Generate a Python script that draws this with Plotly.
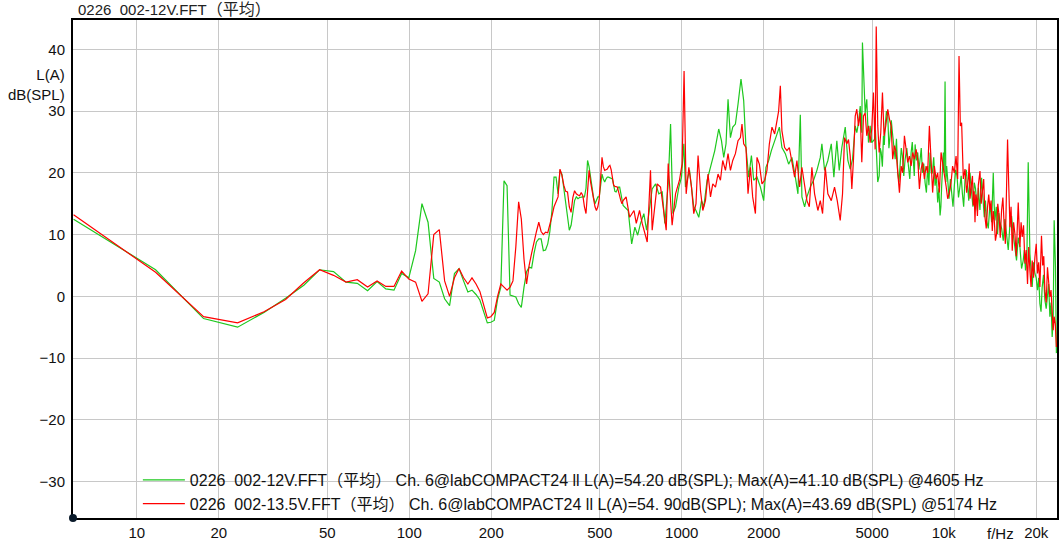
import math
import plotly.graph_objects as go

# ---------------- data ----------------
green_hz = [5.86, 11.72, 17.58, 23.44, 29.30, 35.16, 41.02, 46.88, 52.73, 58.59, 64.45, 70.31, 76.17, 82.03,
            87.89, 93.75, 99.61, 105.5, 111.3, 117.2, 123.0, 128.9, 134.8, 140.6, 146.5, 152.3, 158.2, 164.1,
            169.9, 175.8, 181.6, 187.5, 193.4, 199.2, 205.1, 210.9, 216.8, 222.7, 228.5, 234.4, 240.2, 246.1,
            252.0, 257.8, 263.7, 269.5, 275.4, 281.3, 287.1, 293.0, 298.8, 304.7, 310.5, 316.4, 322.3, 328.1,
            334.0, 339.8, 345.7, 351.6, 357.4, 363.3, 369.1, 375.0, 380.9, 386.7, 392.6, 398.4, 404.3, 410.2,
            416.0, 421.9, 427.7, 433.6, 439.5, 445.3, 451.2, 457.0, 462.9, 468.8, 474.6, 480.5, 486.3, 492.2,
            498.0, 503.9, 509.8, 515.6, 521.5, 527.3, 533.2, 539.1, 544.9, 550.8, 556.6, 562.5, 568.4, 574.2,
            580.1, 585.9, 591.8, 597.7, 603.5, 609.4, 636, 655, 673, 689, 706, 726, 743, 761, 779, 802, 824,
            848, 867, 892, 910, 928, 949, 976, 998, 1018, 1032, 1068, 1086, 1107, 1128, 1155, 1182, 1205, 1239,
            1264, 1292, 1322, 1367, 1399, 1426, 1454, 1479, 1509, 1539, 1574, 1609, 1650, 1688, 1721, 1761,
            1802, 1837, 1889, 1944, 1999, 2037, 2085, 2133, 2175, 2217, 2282, 2332, 2400, 2468, 2538, 2612,
            2670, 2724, 2761, 2825, 2880, 2964, 3047, 3134, 3225, 3269, 3344, 3438, 3539, 3617, 3709, 3785,
            3870, 3982, 4071, 4153, 4235, 4332, 4391, 4454, 4519, 4580, 4605, 4713, 4777, 4846, 4916, 4981,
            5098, 5184, 5304, 5395, 5500, 5580, 5704, 5820, 5934, 6072, 6206, 6332, 6456, 6605, 6792, 6949,
            7085, 7187, 7347, 7497, 7644, 7820, 7994, 8156, 8316, 8508, 8697, 8875, 8996, 9125, 9257, 9383,
            9575, 9788, 10012, 10242, 10505, 10710, 10958, 11194, 11430, 11586, 11852, 12085, 12259, 12606,
            12895, 13149, 13531, 13913, 14114, 14428, 14722, 15137, 15565, 16017, 16469, 16935, 17427, 17919,
            18270, 18691, 18961, 19332, 19778, 20219, 20630, 21034, 21519, 21999, 22446, 22885, 23275, 23535,
            23720]
green_db = [12.5, 4.3, -3.6, -5.0, -2.6, -0.3, 1.8, 4.3, 4.0, 2.3, 2.1, 0.9, 2.4, 1.2,
            1.0, 3.7, 3.0, 7.4, 15.0, 12.0, 2.9, 2.3, -0.4, -1.5, 3.7, 4.5, 2.5, 0.7,
            1.0, 0.3, -0.6, -2.5, -4.3, -4.2, -3.9, -0.5, 1.5, 18.7, 17.9, 0.2, 0.0, -0.1,
            -1.2, -1.8, 1.5, 4.0, 4.7, 4.6, 7.0, 8.8, 9.3, 9.3, 7.4, 7.5, 8.5, 10.5,
            13.9, 19.3, 19.3, 16.6, 20.4, 19.8, 17.5, 15.0, 12.5, 10.7, 11.5, 14.0, 15.5, 16.1,
            15.8, 16.0, 16.1, 16.1, 16.1, 17.5, 22.0, 21.0, 19.3, 17.5, 16.0, 15.0, 15.5, 16.1,
            16.1, 18.0, 19.8, 19.0, 18.5, 19.0, 19.3, 19.3, 19.2, 19.0, 19.0, 18.0, 17.0, 16.9,
            17.5, 17.7, 17.7, 16.5, 15.5, 14.7, 13.9, 8.5, 11.2, 9.9, 11.8, 13.4, 10.7, 14.0, 17.4, 18.2, 16.6,
            16.9, 11.8, 18.2, 27.9, 13.4, 14.5, 17.7, 19.3, 24.7, 17.7, 20.4, 17.7, 14.5, 13.9, 12.8, 15.5, 14.5, 18.8,
            20.4, 22.0, 23.6, 27.1, 25.2, 22.5, 24.7, 31.9, 25.7, 27.4, 27.9, 31.1, 35.2, 31.7, 24.1, 19.3,
            22.8, 18.8, 19.3, 17.7, 15.5, 20.9, 22.0, 23.6, 24.7, 25.7, 27.4, 24.1, 23.1, 21.4, 22.5, 19.3,
            16.6, 29.4, 16.1, 14.5, 16.1, 17.7, 18.8, 20.4, 22.5, 24.7, 20.4, 22.0, 24.7, 19.3, 25.2, 20.4,
            24.1, 27.4, 22.0, 20.6, 22.2, 27.6, 26.5, 28.1, 30.8, 26.5, 41.1, 29.7, 31.9, 24.9, 27.6, 24.9,
            25.4, 22.2, 19.5, 23.3, 26.0, 27.6, 29.2, 26.0, 26.5, 22.2, 20.0, 21.1, 22.7, 22.2, 21.1, 23.3,
            21.7, 24.6, 23.3, 22.2, 20.0, 18.4, 21.1, 23.3, 20.0, 17.9, 15.2, 13.1, 17.9, 23.3, 34.8, 21.1,
            15.8, 16.8, 17.9, 19.5, 17.9, 16.8, 18.9, 17.9, 20.0, 16.8, 18.4, 15.8, 17.6, 19.2,
            12.8, 12.3, 15.0, 20.0, 12.3, 10.1, 12.0, 9.0, 10.1, 11.7, 10.1, 5.8, 8.0, 5.8,
            4.2, 21.7, 6.9, 1.5, 3.7, 1.0, -1.2, 1.5, -0.6, 1.0, -3.3, -6.6, 12.3, 4.7,
            -9.2]
# additional readings of the dense high-frequency ripple (green)
green_hz_hf = [5140, 5240, 5350, 5450, 5540, 5640, 5760, 5877, 6000, 6140, 6270, 6394, 6530, 6700, 6870,
               7017, 7136, 7267, 7420, 7570, 7730, 7907, 8075, 8236, 8410, 8600, 8785, 8935, 9060, 9190,
               9320, 9480, 9680, 9900, 10125, 10370, 10607, 10833, 11075, 11310, 11508, 11718, 11968, 12170,
               12430, 12750, 13020, 13340, 13720, 14010, 14270, 14575, 14930, 15350, 15790, 16240, 16700,
               17180, 17670, 18090, 18480, 19145, 19555, 19995, 20425, 20830, 21275, 21760, 22220, 22665,
               23080]
green_db_hf = [27.0, 18.5, 24.0, 21.0, 24.5, 30.0, 24.0, 28.5, 24.0, 25.5, 18.5, 24.0, 19.5, 24.0, 19.0,
               25.0, 19.5, 22.0, 20.5, 24.0, 21.5, 16.8, 18.0, 20.0, 22.5, 19.5, 17.5, 14.5, 20.5, 20.0,
               18.5, 18.5, 19.0, 14.5, 20.5, 16.0, 19.5, 14.5, 20.5, 15.5, 18.8, 14.5, 17.5, 13.8,
               14.0, 16.0, 15.5, 11.0, 12.0, 15.0, 14.5, 13.5, 11.0, 12.5, 7.5, 13.0, 8.0,
               9.5, 4.5, 7.5, 6.0, 4.5, 5.5, 3.0, 3.0, -2.5, 3.5, -2.0, 2.0, -1.0,
               -4.0]

red_hz = [5.86, 11.72, 17.58, 23.44, 29.30, 35.16, 41.02, 46.88, 52.73, 58.59, 64.45, 70.31, 76.17, 82.03,
          87.89, 93.75, 99.61, 105.5, 111.3, 117.2, 123.0, 128.9, 134.8, 140.6, 146.5, 152.3, 158.2, 164.1,
          169.9, 175.8, 181.6, 187.5, 193.4, 199.2, 205.1, 210.9, 216.8, 222.7, 228.5, 234.4, 240.2, 246.1,
          252.0, 257.8, 263.7, 269.5, 275.4, 281.3, 287.1, 293.0, 298.8, 304.7, 310.5, 316.4, 322.3, 328.1,
          334.0, 339.8, 345.7, 351.6, 357.4, 363.3, 369.1, 375.0, 380.9, 386.7, 392.6, 398.4, 404.3, 410.2,
          416.0, 421.9, 427.7, 433.6, 439.5, 445.3, 451.2, 457.0, 462.9, 468.8, 474.6, 480.5, 486.3, 492.2,
          498.0, 503.9, 509.8, 515.6, 521.5, 527.3, 533.2, 539.1, 544.9, 550.8, 556.6, 562.5, 568.4, 574.2,
          580.1, 585.9, 591.8, 597.7, 603.5, 609.4, 625, 644, 668, 681, 700, 716, 747, 768, 779, 813, 836,
          856, 877, 892, 907, 922, 949, 981, 1003, 1020, 1038, 1062, 1086, 1107, 1128, 1148, 1172, 1195,
          1222, 1249, 1275, 1300, 1330, 1359, 1387, 1414, 1447, 1479, 1509, 1539, 1574, 1609, 1642, 1664,
          1688, 1721, 1751, 1787, 1821, 1864, 1889, 1927, 1970, 2015, 2055, 2097, 2144, 2193, 2236, 2268,
          2301, 2332, 2386, 2433, 2483, 2538, 2596, 2647, 2708, 2761, 2825, 2880, 2939, 3004, 3073, 3160,
          3225, 3288, 3364, 3438, 3539, 3638, 3722, 3817, 3892, 3958, 4036, 4094, 4153, 4210, 4270, 4332,
          4391, 4454, 4519, 4580, 4646, 4713, 4777, 4846, 4916, 4981, 5055, 5128, 5174, 5242, 5304, 5376,
          5454, 5527, 5608, 5704, 5786, 5869, 5947, 6035, 6122, 6206, 6295, 6386, 6471, 6566, 6661, 6752,
          6850, 6949, 7040, 7145, 7248, 7347, 7453, 7561, 7661, 7774, 7886, 7994, 8108, 8198, 8334, 8457,
          8580, 8697, 8822, 8950, 9074, 9202, 9335, 9464, 9599, 9738, 9865, 10012, 10157, 10294, 10416,
          10531, 10648, 10801, 10958, 11108, 11267, 11430, 11586, 11753, 11922, 12085, 12259, 12436, 12680,
          12972, 13253, 13531, 13796, 14030, 14306, 14598, 14922, 15265, 15565, 15698, 15856, 16017, 16331,
          16707, 17080, 17179, 17427, 17768, 18178, 18583, 18961, 19332, 19778, 20219, 20630, 20912, 21122,
          21519, 21999, 22446, 22885, 23275, 23720]
red_db = [13.2, 3.9, -3.3, -4.3, -2.5, -0.5, 2.2, 4.3, 3.4, 2.3, 2.7, 1.5, 2.5, 1.6,
          1.6, 4.1, 2.8, 2.3, -0.8, 0.4, 10.0, 10.8, 2.5, 0.0, 3.0, 4.5, 3.0, 2.0,
          3.0, 2.0, 0.8, -1.5, -3.5, -3.3, -2.6, 0.0, 2.0, 1.5, 1.0, 1.5, 2.5, 8.0,
          15.3, 12.5, 6.0, 2.0, 5.0, 7.0, 9.0, 10.5, 12.0, 10.5, 10.0, 10.4, 10.3, 11.5,
          13.0, 14.5, 15.2, 16.1, 20.6, 19.6, 18.0, 17.0, 16.9, 14.5, 13.6, 16.0, 17.1, 16.6,
          16.4, 16.3, 16.8, 16.3, 14.5, 13.4, 17.0, 20.4, 18.5, 16.9, 15.5, 14.5, 13.9, 14.5,
          15.8, 19.0, 22.5, 21.0, 20.4, 20.5, 20.6, 21.0, 21.2, 20.5, 19.0, 18.0, 17.8, 17.7,
          17.7, 17.0, 16.0, 15.5, 15.0, 15.5, 16.1, 12.8, 13.9, 11.8, 13.9, 11.8, 8.8, 20.4, 10.7, 18.2, 17.7,
          14.0, 10.7, 21.5, 16.0, 11.5, 16.6, 18.8, 21.4, 36.5, 16.6, 20.9, 17.7, 13.4, 15.0, 22.8, 17.1, 13.9,
          15.5, 19.8, 16.1, 18.2, 17.7, 19.8, 18.8, 22.0, 20.4, 23.1, 20.4, 22.0, 23.1, 25.2, 25.7, 27.9,
          24.7, 24.1, 16.6, 20.9, 16.1, 13.4, 22.5, 21.4, 18.2, 18.8, 20.4, 24.7, 27.4, 26.3, 28.4, 30.0,
          34.1, 26.8, 24.1, 23.6, 24.1, 22.0, 19.3, 22.0, 17.7, 20.9, 17.7, 15.5, 14.5, 20.9, 16.6, 13.9,
          15.5, 13.4, 20.9, 16.6, 15.5, 17.7, 15.5, 12.3, 16.6, 25.7, 24.7, 25.4, 22.7, 17.4, 22.2, 29.2,
          30.3, 27.6, 29.7, 21.7, 29.2, 29.7, 26.0, 27.6, 24.9, 27.1, 33.0, 23.8, 43.69, 27.6, 23.3, 26.5,
          33.0, 26.0, 27.6, 30.3, 28.7, 27.6, 22.2, 24.4, 23.3, 19.5, 16.8, 21.1, 20.0, 26.0, 23.3, 21.7,
          22.7, 21.1, 23.3, 22.2, 23.8, 22.2, 17.4, 20.6, 21.7, 19.0, 21.1, 20.0, 27.6, 23.3, 16.8, 21.1,
          19.0, 20.0, 16.8, 23.3, 21.7, 20.0, 17.9, 15.8, 16.8, 18.4, 21.1, 20.0, 22.7, 19.0, 38.9,
          27.6, 28.1, 19.0, 20.6, 16.8, 19.0, 15.8, 18.4, 14.7, 12.0, 15.8, 18.0, 20.3, 16.6,
          12.8, 14.4, 13.9, 10.6, 12.3, 10.1, 13.3, 13.9, 11.2, 17.6, 25.4, 18.0, 11.2, 7.4,
          10.1, 13.9, 15.2, 8.0, 9.6, 5.3, 2.0, 4.2, 5.8, 6.3, 3.7, 1.5, 9.8, 5.0,
          1.0, 4.7, -0.1, -2.3, -3.3, -8.2]
# additional readings of the dense high-frequency ripple (red)
red_hz_hf = [11350, 11670, 11840, 12000, 12170, 12560, 12830, 13110, 13390, 13660, 13910, 14170, 14450,
             14760, 15090, 15410, 16170, 16520, 16890, 17600, 17970, 18380, 18770, 19145, 19555, 20000,
             20425, 21320, 21760, 22220, 22665, 23080, 23500]
red_db_hf = [21.5, 19.5, 17.0, 16.5, 13.0, 15.0, 19.0, 11.0, 16.5, 15.5, 13.8, 9.0, 15.0,
             9.5, 16.0, 8.5, 14.5, 12.0, 6.5, 12.0, 11.5, 7.5, 8.0, 1.5, 3.0, 8.5,
             5.5, 6.5, -1.0, 2.0, 1.0, -5.5, -4.5]

x_tick_vals = [10, 20, 50, 100, 200, 500, 1000, 2000, 5000, 10000, 20000]
x_tick_text = ["10", "20", "50", "100", "200", "500", "1000", "2000", "5000",
               "10k" + "\u00a0" * 5, "20k"]
y_tick_vals = [-30, -20, -10, 0, 10, 20, 30, 40]

NB = "\u00a0"
CJK = '<span style="font-size:16px">（平均）</span>'
name_green = ("0226" + NB * 2 + "002-12V.FFT" + CJK + NB + "Ch. 6@labCOMPACT24 ll L(A)=54.20 dB(SPL); "
              "Max(A)=41.10 dB(SPL) @4605 Hz")
name_red = ("0226" + NB * 2 + "002-13.5V.FFT" + CJK + NB + "Ch. 6@labCOMPACT24 ll L(A)=54. 90dB(SPL); "
            "Max(A)=43.69 dB(SPL) @5174 Hz")
title_text = "0226" + NB * 2 + "002-12V.FFT" + CJK


def merged(hz_a, db_a, hz_b, db_b):
    pairs = sorted(zip(hz_a + hz_b, db_a + db_b))
    return [p[0] for p in pairs], [p[1] for p in pairs]


g_x, g_y = merged(green_hz, green_db, green_hz_hf, green_db_hf)
r_x, r_y = merged(red_hz, red_db, red_hz_hf, red_db_hf)

# ---------------- figure ----------------
FONT = "Liberation Sans, Arial, Noto Sans CJK SC, sans-serif"
W, H = 1061, 552
L, R, T, B = 73, 2, 20, 34
PW, PH = W - L - R, H - T - B

fig = go.Figure()
fig.add_trace(go.Scatter(x=g_x, y=g_y, mode="lines", name=name_green,
                         line=dict(color="#1ec81e", width=1.2)))
fig.add_trace(go.Scatter(x=r_x, y=r_y, mode="lines", name=name_red,
                         line=dict(color="#ff0000", width=1.2)))

axis_common = dict(showgrid=True, gridcolor="#c8c8c8", gridwidth=1, showline=True, linecolor="black",
                   linewidth=2, mirror=True, zeroline=False, ticks="",
                   tickfont=dict(family=FONT, size=15, color="#111"))
fig.update_xaxes(type="log", range=[math.log10(5.832), math.log10(23840)],
                 tickvals=x_tick_vals, ticktext=x_tick_text, ticklabelstandoff=0, **axis_common)
fig.update_yaxes(range=[-35.9, 44.75], tickvals=y_tick_vals, ticklabelstandoff=3, **axis_common)


def px(x):
    return (x - L) / PW


def py(y):
    return (H - B - y) / PH


fig.update_layout(
    width=W, height=H,
    margin=dict(l=L, r=R, t=T, b=B),
    paper_bgcolor="white", plot_bgcolor="white",
    font=dict(family=FONT, size=15, color="#111"),
    showlegend=True,
    legend=dict(x=px(138), y=py(463), xanchor="left", yanchor="top", bgcolor="rgba(0,0,0,0)",
                borderwidth=0, itemwidth=42, font=dict(family=FONT, size=16, color="#111"),
                tracegroupgap=0),
    annotations=[
        dict(text=title_text, xref="paper", yref="paper", x=px(76), y=py(10), xanchor="left",
             yanchor="middle", showarrow=False, font=dict(family=FONT, size=15, color="#222")),
        dict(text="L(A)<br>dB(SPL)", xref="paper", yref="paper", x=px(67), y=py(84), xanchor="right",
             yanchor="middle", align="right", showarrow=False, font=dict(family=FONT, size=15, color="#111")),
        dict(text="f/Hz", xref="paper", yref="paper", x=px(1002), y=py(533), xanchor="center",
             yanchor="middle", showarrow=False, font=dict(family=FONT, size=15, color="#111")),
    ],
    shapes=[
        dict(type="circle", xref="paper", yref="paper", x0=px(69), x1=px(77), y0=py(522), y1=py(514),
             fillcolor="#0a1a2a", line=dict(color="#0a1a2a", width=0)),
    ],
)

fig.write_html("out.html", config={"displayModeBar": False},
               post_script="document.body.style.margin='0';document.body.style.padding='0';")
